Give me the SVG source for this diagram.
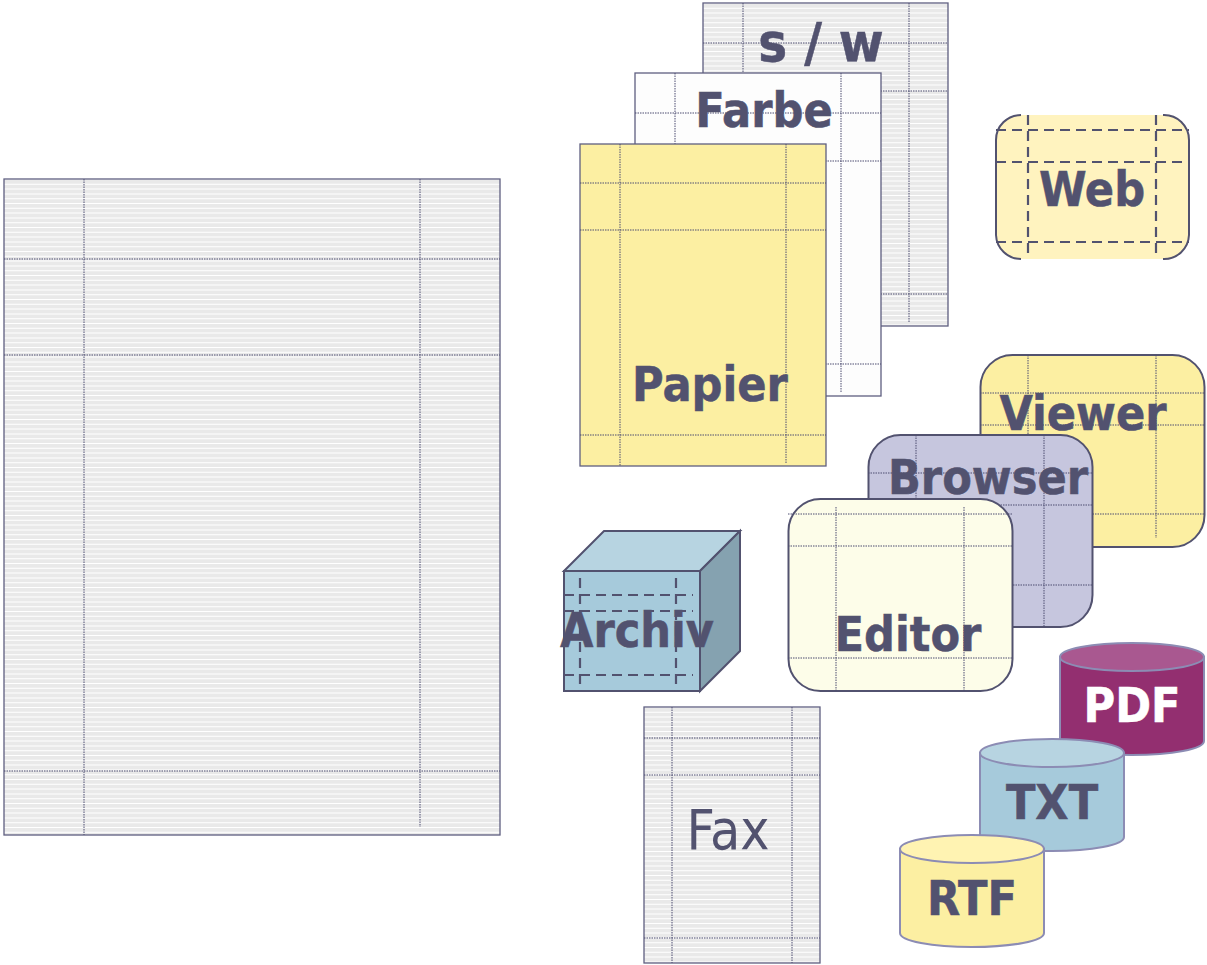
<svg xmlns="http://www.w3.org/2000/svg" width="1207" height="965" viewBox="0 0 1207 965">
<style>
text{font-family:"DejaVu Sans",Verdana,sans-serif;font-stretch:condensed;font-weight:bold;font-size:48px;fill:#52526f;stroke:#52526f;stroke-width:.5;text-anchor:middle}
.b{stroke:#5f5f80;stroke-width:1.3}
.n{fill:none}
.s{fill:none;stroke:#e9e9e9;stroke-dasharray:3.8 1}
.g{fill:none;stroke:#4c4c70;stroke-width:1;stroke-dasharray:1.5 1}
.d{fill:none;stroke:#52526f;stroke-width:2.2;stroke-dasharray:10 6}
.r{stroke:#52526f;stroke-width:2}
.c{stroke:#8c8cb4;stroke-width:2}
</style>
<rect width="1207" height="965" fill="#fff"/>
<g id="large-page">
<path class="s" stroke-width="496" d="M252 180V835"/>
<rect class="b n" x="4" y="179" width="496" height="656"/>
<path class="g" d="M84 179V835M420 179V827M4 259H500M4 355H500M4 771H500"/>
</g>
<g id="sw">
<rect x="703" y="3" width="245" height="323" fill="#fff"/>
<path class="s" stroke-width="245" d="M825.500 4V326"/>
<rect class="b n" x="703" y="3" width="245" height="323"/>
<path class="g" d="M743 3V326M909 3V323M703 43H948M703 91H948M703 294H948"/>
<text x="821" y="61" style="font-size:54px">s / w</text>
</g>
<g id="farbe">
<rect class="b" x="635" y="73" width="246" height="323" fill="#fdfdfd"/>
<path class="g" d="M675 73V396M841 73V393M635 113H881M635 161H881M635 364H881"/>
<text x="764" y="127">Farbe</text>
</g>
<g id="papier">
<rect class="b" x="580" y="144" width="246" height="322" fill="#fcefa2"/>
<path class="g" d="M620 144V466M786 144V463M580 183H826M580 230H826M580 435H826"/>
<text x="710" y="401">Papier</text>
</g>
<g id="web">
<rect x="996" y="115" width="193" height="144" rx="24" fill="#fff3bf"/>
<path fill="none" class="r" d="M1021 115A25 25 0 0 0 996 140V235A25 25 0 0 0 1021 259M1163 115A25 25 0 0 1 1189 140V235A25 25 0 0 1 1163 259"/>
<path class="d" d="M1028 115V259M1156 115V259M996 130H1189M996 162H1189M996 242H1189"/>
<text x="1092" y="206">Web</text>
</g>
<g id="viewer">
<rect class="r" x="980.500" y="355" width="224" height="192" rx="32" fill="#fcefa2"/>
<path class="g" d="M1028 355V538M1156 355V538M980 393H1204M980 425H1204M980 514H1204"/>
<text x="1083" y="430">Viewer</text>
</g>
<g id="browser">
<rect class="r" x="868.500" y="435" width="224" height="192" rx="32" fill="#c6c6de"/>
<path class="g" d="M916 435V627M1044 435V627M868 473H1092M868 505H1092M868 585H1092"/>
<text x="988" y="494">Browser</text>
</g>
<g id="editor">
<rect class="r" x="788.500" y="499" width="224" height="192" rx="32" fill="#fdfde9"/>
<path class="g" d="M836 507V691M964 507V691M788 514H1012M788 546H1012M788 658H1012"/>
<text x="908" y="651">Editor</text>
</g>
<g id="archiv">
<rect class="r" x="564" y="571" width="136" height="120" fill="#a6cadb"/>
<path class="r" d="M564 571L604 531H740L700 571Z" fill="#b7d4e1"/>
<path class="r" d="M700 571L740 531V651L700 691Z" fill="#85a2b0"/>
<path class="d" d="M580 578V691M676 578V691M564 595H693M564 611H693M564 675H693"/>
<text x="637" y="647">Archiv</text>
</g>
<g id="fax">
<path class="s" stroke-width="176" d="M732 708V963"/>
<rect class="b n" x="644" y="707" width="176" height="256"/>
<path class="g" d="M672 707V963M792 707V963M644 738H820M644 775H820M644 938H820"/>
<text x="728" y="849" style="font-weight:normal;font-size:55px;stroke:none">Fax</text>
</g>
<g id="pdf">
<path class="c" d="M1060 657V741C1060 749 1092 755 1132 755S1204 749 1204 741V657Z" fill="#932f70"/>
<ellipse class="c" cx="1132" cy="657" rx="72" ry="14" fill="#a95890"/>
<text x="1132" y="722" style="fill:#fff;stroke:#fff">PDF</text>
</g>
<g id="txt">
<path class="c" d="M980 753V837C980 845 1012 851 1052 851S1124 845 1124 837V753Z" fill="#a6cadb"/>
<ellipse class="c" cx="1052" cy="753" rx="72" ry="14" fill="#b7d4e1"/>
<text x="1052" y="819">TXT</text>
</g>
<g id="rtf">
<path class="c" d="M900 849V933C900 941 932 947 972 947S1044 941 1044 933V849Z" fill="#fcefa2"/>
<ellipse class="c" cx="972" cy="849" rx="72" ry="14" fill="#fff3b2"/>
<text x="972" y="915">RTF</text>
</g>
<g id="connectors"/>
</svg>
